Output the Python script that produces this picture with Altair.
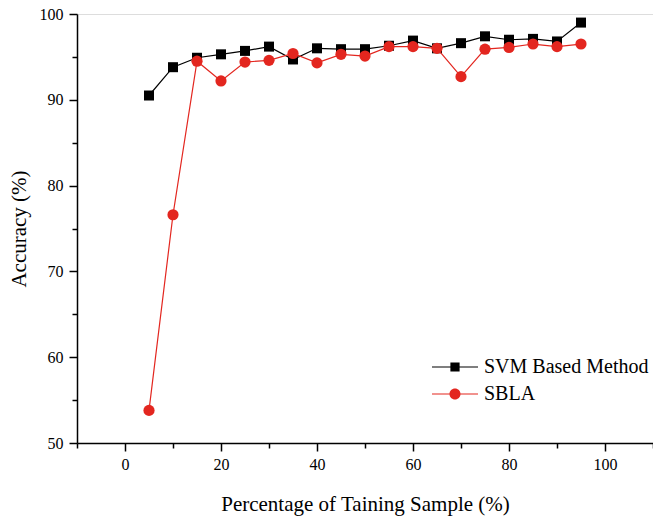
import altair as alt
import pandas as pd

x_values = [5, 10, 15, 20, 25, 30, 35, 40, 45, 50, 55, 60, 65, 70, 75, 80, 85, 90, 95]
svm = [90.5, 93.8, 94.9, 95.3, 95.7, 96.2, 94.7, 96.0, 95.9, 95.9, 96.3, 96.9, 96.0, 96.6, 97.4, 97.0, 97.1, 96.8, 99.0]
sbla = [53.8, 76.6, 94.5, 92.2, 94.4, 94.6, 95.4, 94.3, 95.3, 95.1, 96.2, 96.2, 96.0, 92.7, 95.9, 96.1, 96.5, 96.2, 96.5]
series_names = ["SVM Based Method", "SBLA"]
colors = ["#000000", "#e3261f"]
x_major_ticks = [0, 20, 40, 60, 80, 100]
x_minor_ticks = [-10, 10, 30, 50, 70, 90, 110]
y_major_ticks = [50, 60, 70, 80, 90, 100]
y_minor_ticks = [55, 65, 75, 85, 95]

rows = []
for name, vals in zip(series_names, [svm, sbla]):
    for x, v in zip(x_values, vals):
        rows.append({"x": x, "acc": v, "series": name})
df = pd.DataFrame(rows)

font = "Liberation Serif"
xscale = alt.Scale(domain=[-10, 110], nice=False, zero=False)
yscale = alt.Scale(domain=[50, 100], nice=False, zero=False)

common_axis = dict(grid=False, domainColor="black", tickColor="black", labelColor="black",
                   titleColor="black", labelFont=font, titleFont=font, labelFontSize=16,
                   titleFontSize=21, titleFontWeight="normal", domainWidth=1.5, tickWidth=1.5)

x_major = alt.Axis(values=x_major_ticks, title="Percentage of Taining Sample (%)", orient="bottom",
                   tickSize=8, labelPadding=5, titlePadding=21, **common_axis)
x_minor = alt.Axis(values=x_minor_ticks, title=None, labels=False, orient="bottom", domain=False,
                   tickSize=5, grid=False, tickColor="black", tickWidth=1.5)
y_major = alt.Axis(values=y_major_ticks, title="Accuracy (%)", orient="left",
                   tickSize=8, labelPadding=6, titlePadding=9.5, **common_axis)
y_minor = alt.Axis(values=y_minor_ticks, title=None, labels=False, orient="left", domain=False,
                   tickSize=5, grid=False, tickColor="black", tickWidth=1.5)

base = alt.Chart(df)


def layer_for(name, mark, x_axis, y_axis):
    return mark.encode(
        x=alt.X("x:Q", scale=xscale, axis=x_axis),
        y=alt.Y("acc:Q", scale=yscale, axis=y_axis),
    ).transform_filter(alt.datum.series == name)


black_line = layer_for(series_names[0], base.mark_line(color=colors[0], strokeWidth=1.2), x_major, y_major)
black_pts = layer_for(series_names[0],
                      base.mark_point(shape="square", filled=True, opacity=1, size=100, color=colors[0]),
                      x_minor, y_minor)
red_line = layer_for(series_names[1], base.mark_line(color=colors[1], strokeWidth=1.2), None, None)
red_pts = layer_for(series_names[1],
                    base.mark_point(shape="circle", filled=True, opacity=1, size=125, color=colors[1]),
                    None, None)

sq_path = "M-1,-0.025H1V0.025H-1Z M-0.2,-0.2H0.2V0.2H-0.2Z"
r = 0.24
circ_path = f"M-1,-0.025H1V0.025H-1Z M-{r},0 A{r},{r} 0 1,1 {r},0 A{r},{r} 0 1,1 -{r},0 Z"
legend_paths = [sq_path, circ_path]
legend_y = [330, 357]


def legend_layer(i):
    name = series_names[i]
    lg = alt.Legend(orient="none", legendX=355, legendY=legend_y[i], title=None, labelFont=font,
                    labelFontSize=20, labelColor="black", symbolSize=2116, symbolStrokeWidth=0,
                    labelOffset=6, padding=0, symbolOpacity=1, labelLimit=0)
    return base.mark_point(filled=True, opacity=0).encode(
        x=alt.X("x:Q", scale=xscale, axis=None),
        y=alt.Y("acc:Q", scale=yscale, axis=None),
        fill=alt.Fill("series:N", scale=alt.Scale(domain=[name], range=[colors[i]]), legend=lg),
        shape=alt.Shape("series:N", scale=alt.Scale(domain=[name], range=[legend_paths[i]]), legend=lg),
    ).transform_filter(alt.datum.series == name)


chart = alt.layer(black_line, black_pts, red_line, red_pts, legend_layer(0), legend_layer(1)).resolve_axis(
    x="independent", y="independent"
).resolve_scale(
    fill="independent", shape="independent"
).properties(
    width=576, height=429,
    autosize=alt.AutoSizeParams(type="none"),
    padding={"left": 69, "top": 6, "right": 0, "bottom": 73},
).configure_view(stroke=None).configure(background="white")

chart.save("out.html", embed_options={"renderer": "svg", "actions": False})
